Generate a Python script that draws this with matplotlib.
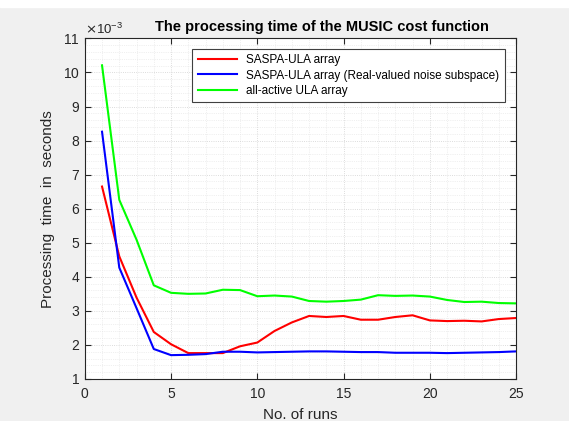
import numpy as np
import matplotlib.pyplot as plt
from matplotlib.ticker import ScalarFormatter, MultipleLocator

plt.rcParams["font.family"] = ["Liberation Sans", "DejaVu Sans"]

# ---------- Data (seconds) ----------
runs = np.arange(1, 26)
saspa = [6.65, 4.60, 3.39, 2.38, 2.02, 1.76, 1.76, 1.76, 1.96, 2.07,
         2.41, 2.66, 2.85, 2.82, 2.85, 2.74, 2.74, 2.82, 2.87, 2.72,
         2.70, 2.71, 2.69, 2.76, 2.79]
saspa_real = [8.26, 4.27, 3.08, 1.88, 1.70, 1.71, 1.73, 1.80, 1.80, 1.78,
              1.79, 1.80, 1.81, 1.81, 1.80, 1.79, 1.79, 1.77, 1.77, 1.77,
              1.76, 1.77, 1.78, 1.79, 1.81]
ula = [10.21, 6.26, 5.09, 3.75, 3.53, 3.50, 3.51, 3.62, 3.61, 3.43,
       3.45, 3.42, 3.29, 3.27, 3.29, 3.33, 3.46, 3.44, 3.45, 3.42,
       3.32, 3.26, 3.27, 3.23, 3.22]
labels = ["SASPA-ULA array",
          "SASPA-ULA array (Real-valued noise subspace)",
          "all-active ULA array"]

saspa = np.array(saspa) * 1e-3
saspa_real = np.array(saspa_real) * 1e-3
ula = np.array(ula) * 1e-3

# ---------- Plot ----------
fig = plt.figure(figsize=(5.69, 4.21), dpi=100, facecolor="#f0f0f0")
# white strip on top (cropped screenshot)
fig.patches.append(plt.Rectangle((0, 414 / 421), 1, 1, transform=fig.transFigure,
                                 color="white", zorder=0))
ax = fig.add_axes([0.149, 0.0998, 0.758, 0.809])

ax.plot(runs, saspa, color=(1, 0, 0), lw=1.5, label=labels[0])
ax.plot(runs, saspa_real, color=(0, 0, 1), lw=1.5, label=labels[1])
ax.plot(runs, ula, color=(0, 1, 0), lw=1.5, label=labels[2])

ax.set_xlim(0, 25)
ax.set_ylim(1e-3, 11e-3)
ax.xaxis.set_major_locator(MultipleLocator(5))
ax.xaxis.set_minor_locator(MultipleLocator(1))
ax.yaxis.set_major_locator(MultipleLocator(1e-3))
ax.yaxis.set_minor_locator(MultipleLocator(0.2e-3))

fmt = ScalarFormatter(useMathText=True)
fmt.set_powerlimits((-3, -3))
ax.yaxis.set_major_formatter(fmt)
ax.yaxis.get_offset_text().set_fontsize(9.5)
ax.yaxis.get_offset_text().set_color("#262626")

ax.tick_params(which="both", direction="in", top=True, right=True,
               labelsize=10, colors="#262626")
ax.tick_params(which="major", length=4)
ax.tick_params(axis="x", pad=6)
ax.tick_params(which="minor", length=0)
for s in ax.spines.values():
    s.set_color("#262626")
    s.set_linewidth(0.8)

ax.grid(True, which="major", ls=":", lw=0.6, color="#d0d0d0")
ax.grid(True, which="minor", ls=":", lw=0.5, color="#e2e2e2")
ax.set_axisbelow(True)

ax.set_title("The processing time of the MUSIC cost function",
             fontsize=10.5, fontweight="bold", x=0.55, pad=5)
ax.set_xlabel("No. of runs", fontsize=11, color="#262626", labelpad=5)
ax.set_ylabel("Processing  time  in  seconds", fontsize=11, color="#262626",
              labelpad=6)

leg = ax.legend(loc="upper right", bbox_to_anchor=(0.987, 0.987), fontsize=8.5,
                fancybox=False, framealpha=1, edgecolor="#404040",
                handlelength=3.3, borderpad=0.45, labelspacing=0.3)
leg.get_frame().set_linewidth(0.8)

fig.savefig("out.png", dpi=100, facecolor=fig.get_facecolor())
